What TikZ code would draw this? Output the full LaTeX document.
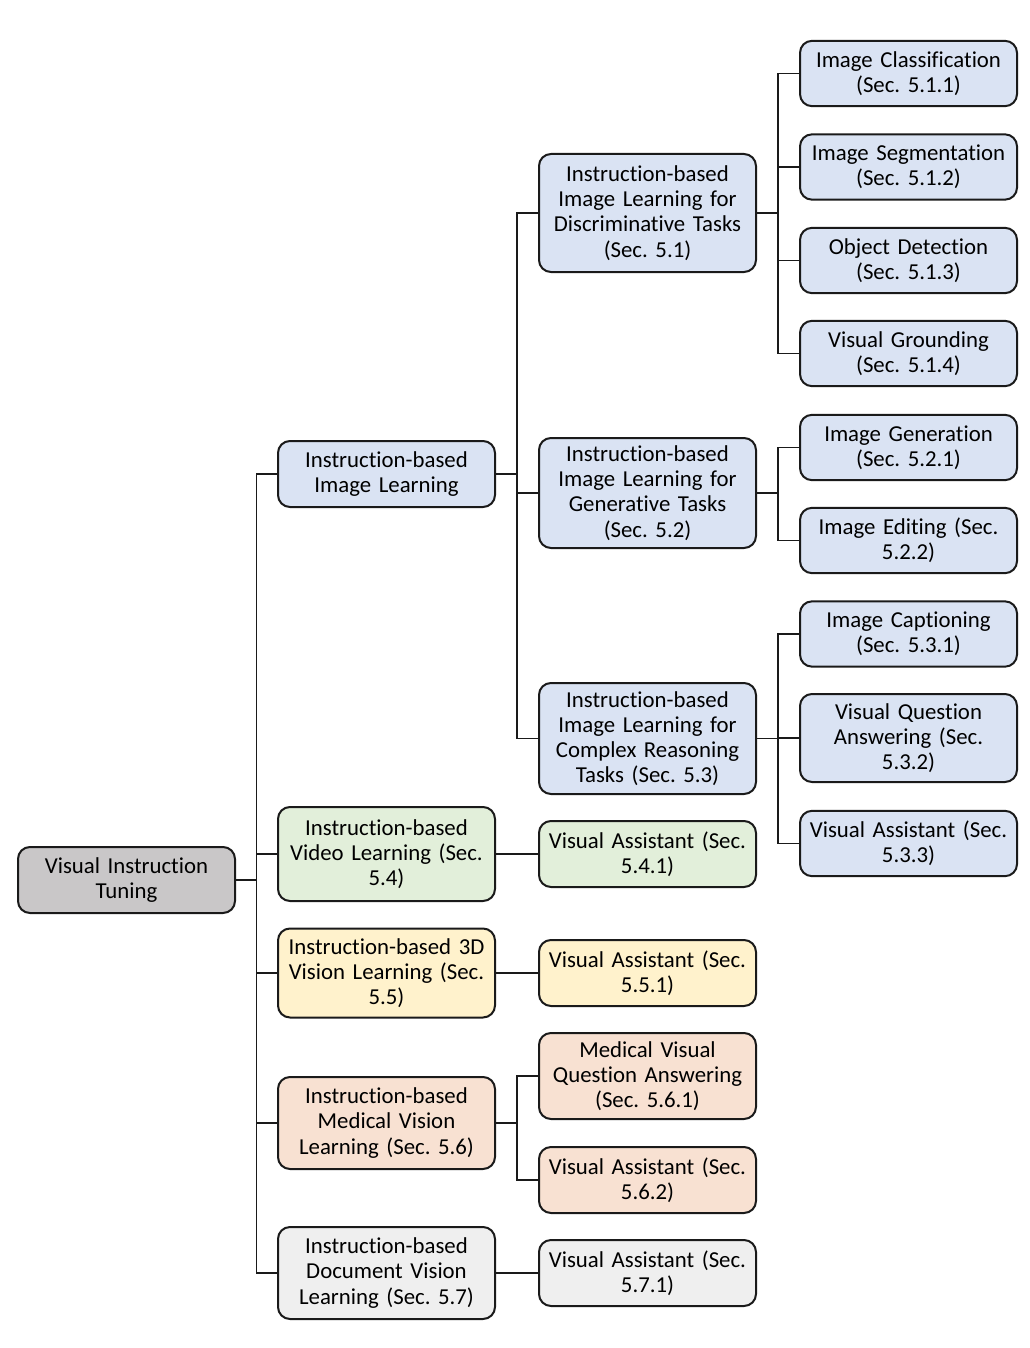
\documentclass[tikz,border=0pt]{standalone}
\usepackage{fontspec}
\setmainfont[Ligatures=NoCommon]{Carlito}
\usetikzlibrary{calc}
\frenchspacing
\definecolor{cblue}{HTML}{DAE3F3}
\definecolor{cgreen}{HTML}{E2EFDA}
\definecolor{cyellow}{HTML}{FFF2CC}
\definecolor{corange}{HTML}{F8E1D2}
\definecolor{cgray}{HTML}{C9C7C8}
\definecolor{clight}{HTML}{EFEFEF}
\definecolor{cline}{HTML}{1A1A1A}
\tikzset{
  box/.style={draw=cline, line width=1.5pt, rounded corners=9pt, align=center,
    inner sep=0pt, minimum width=162.75pt, text width=160pt,
    font=\fontsize{17.1}{18.9}\selectfont},
  conn/.style={draw=cline, line width=1.4pt},
}
\newcommand{\conn}[2]{\draw[conn] (#1.east) -| ($(#1.east)!0.5!(#2.west)$) |- (#2.west);}
\begin{document}
\begin{tikzpicture}[x=0.75pt,y=-0.75pt]
\useasboundingbox (0,0) rectangle (1030,1348);
% root
\node[box, fill=cgray, minimum height=49.5pt] (root) at (126.5,880) {Visual Instruction\\Tuning};
% level 1
\node[box, fill=cblue, minimum height=49.5pt] (il) at (386.5,474) {Instruction-based\\Image Learning};
\node[box, fill=cgreen, minimum height=70.5pt] (vid) at (386.5,854) {Instruction-based\\Video Learning (Sec.\\5.4)};
\node[box, fill=cyellow, minimum height=66.75pt] (tdv) at (386.5,973) {Instruction-based 3D\\Vision Learning (Sec.\\5.5)};
\node[box, fill=corange, minimum height=69pt] (med) at (386.5,1123) {Instruction-based\\Medical Vision\\Learning (Sec. 5.6)};
\node[box, fill=clight, minimum height=69pt] (doc) at (386.5,1273) {Instruction-based\\Document Vision\\Learning (Sec. 5.7)};
% level 2
\node[box, fill=cblue, minimum height=88.5pt] (disc) at (647.5,213) {Instruction-based\\Image Learning for\\Discriminative Tasks\\(Sec. 5.1)};
\node[box, fill=cblue, minimum height=82.5pt] (gen) at (647.5,493) {Instruction-based\\Image Learning for\\Generative Tasks\\(Sec. 5.2)};
\node[box, fill=cblue, minimum height=83.25pt] (cplx) at (647.5,738.5) {Instruction-based\\Image Learning for\\Complex Reasoning\\Tasks (Sec. 5.3)};
\node[box, fill=cgreen, minimum height=49.5pt] (vidva) at (647.5,854) {Visual Assistant (Sec.\\5.4.1)};
\node[box, fill=cyellow, minimum height=49.5pt] (tdva) at (647.5,973) {Visual Assistant (Sec.\\5.5.1)};
\node[box, fill=corange, minimum height=64.5pt] (medvqa) at (647.5,1076) {Medical Visual\\Question Answering\\(Sec. 5.6.1)};
\node[box, fill=corange, minimum height=49.5pt] (medva) at (647.5,1180) {Visual Assistant (Sec.\\5.6.2)};
\node[box, fill=clight, minimum height=49.5pt] (docva) at (647.5,1273) {Visual Assistant (Sec.\\5.7.1)};
% level 3
\node[box, fill=cblue, minimum height=49pt] (cls) at (908.5,73.5) {Image Classification\\(Sec. 5.1.1)};
\node[box, fill=cblue, minimum height=49pt] (seg) at (908.5,167) {Image Segmentation\\(Sec. 5.1.2)};
\node[box, fill=cblue, minimum height=49pt] (det) at (908.5,260.5) {Object Detection\\(Sec. 5.1.3)};
\node[box, fill=cblue, minimum height=49pt] (grd) at (908.5,353.5) {Visual Grounding\\(Sec. 5.1.4)};
\node[box, fill=cblue, minimum height=49pt] (igen) at (908.5,447.5) {Image Generation\\(Sec. 5.2.1)};
\node[box, fill=cblue, minimum height=49pt] (iedit) at (908.5,540.5) {Image Editing (Sec.\\5.2.2)};
\node[box, fill=cblue, minimum height=49pt] (cap) at (908.5,634) {Image Captioning\\(Sec. 5.3.1)};
\node[box, fill=cblue, minimum height=66pt] (vqa) at (908.5,738) {Visual Question\\Answering (Sec.\\5.3.2)};
\node[box, fill=cblue, minimum height=49pt] (va3) at (908.5,843.5) {Visual Assistant (Sec.\\5.3.3)};
% connectors
\conn{root}{il}
\conn{root}{vid}
\conn{root}{tdv}
\conn{root}{med}
\conn{root}{doc}
\conn{il}{disc}
\conn{il}{gen}
\conn{il}{cplx}
\conn{vid}{vidva}
\conn{tdv}{tdva}
\conn{med}{medvqa}
\conn{med}{medva}
\conn{doc}{docva}
\conn{disc}{cls}
\conn{disc}{seg}
\conn{disc}{det}
\conn{disc}{grd}
\conn{gen}{igen}
\conn{gen}{iedit}
\conn{cplx}{cap}
\conn{cplx}{vqa}
\conn{cplx}{va3}
\end{tikzpicture}
\end{document}
